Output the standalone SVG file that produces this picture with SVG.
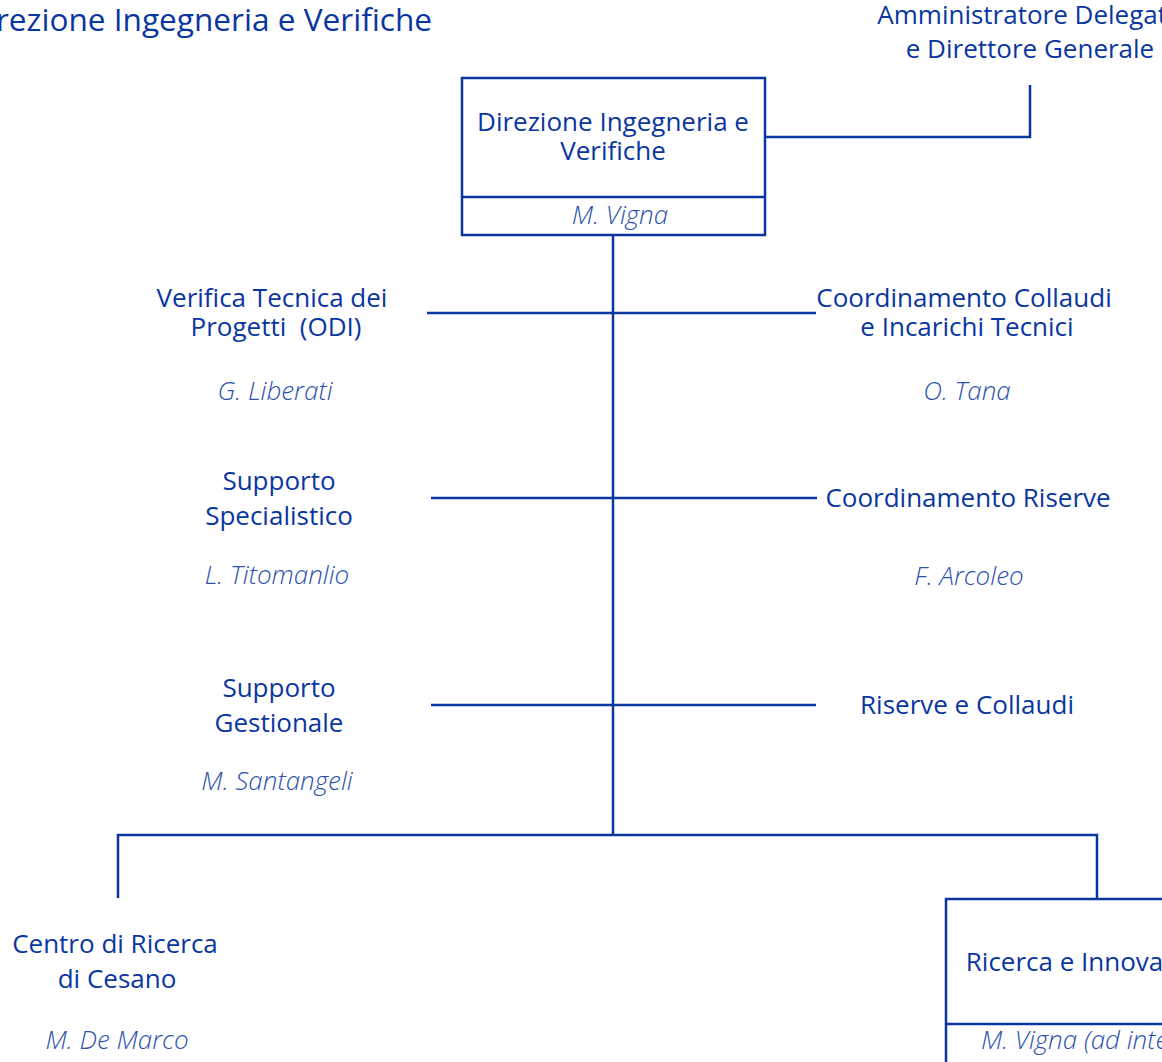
<svg xmlns="http://www.w3.org/2000/svg" width="1162" height="1062" viewBox="0 0 1162 1062">
<style>
.t{font-family:"Open Sans","Noto Sans","Liberation Sans",sans-serif;font-size:26px;fill:#0a36a0;text-anchor:middle}
.n{font-family:"Open Sans","Noto Sans","Liberation Sans",sans-serif;font-size:26px;font-style:italic;font-weight:300;fill:#2d52ad;text-anchor:middle}
.box{fill:#fff;stroke:#0a36a0;stroke-width:2.5}
.c{fill:none;stroke:#0a36a0;stroke-width:2.5}
</style>
<rect width="1162" height="1062" fill="#fff"/>
<text class="t" x="432" y="31" style="font-size:31.6px;text-anchor:end">Direzione Ingegneria e Verifiche</text>
<g id="connectors">
<path class="c" d="M765 137H1030V85"/>
<path class="c" d="M613 235V835"/>
<path class="c" d="M118 898V835H1097V899"/>
<path class="c" d="M427 313H816"/>
<path class="c" d="M431 498H817"/>
<path class="c" d="M431 705H816"/>
</g>
<g id="ad">
<text class="t" x="1030" y="24">Amministratore Delegato</text>
<text class="t" x="1030" y="58">e Direttore Generale</text>
</g>
<g id="direzione">
<rect class="box" x="462" y="78" width="303" height="157"/>
<line class="c" x1="462" y1="197" x2="765" y2="197"/>
<text class="t" x="613" y="131">Direzione Ingegneria e</text>
<text class="t" x="613" y="160">Verifiche</text>
<text class="n" x="620" y="224">M. Vigna</text>
</g>
<g id="verifica">
<text class="t" x="272" y="307">Verifica Tecnica dei</text>
<text class="t" x="276" y="336" style="white-space:pre">Progetti  (ODI)</text>
<text class="n" x="275" y="400">G. Liberati</text>
</g>
<g id="collaudi">
<text class="t" x="964" y="307">Coordinamento Collaudi</text>
<text class="t" x="967" y="336">e Incarichi Tecnici</text>
<text class="n" x="967" y="400">O. Tana</text>
</g>
<g id="specialistico">
<text class="t" x="279" y="490">Supporto</text>
<text class="t" x="279" y="525">Specialistico</text>
<text class="n" x="277" y="584">L. Titomanlio</text>
</g>
<g id="riserve">
<text class="t" x="968" y="507">Coordinamento Riserve</text>
<text class="n" x="969" y="585">F. Arcoleo</text>
</g>
<g id="gestionale">
<text class="t" x="279" y="697">Supporto</text>
<text class="t" x="279" y="732">Gestionale</text>
<text class="n" x="277" y="790">M. Santangeli</text>
</g>
<g id="riservecollaudi">
<text class="t" x="967" y="714">Riserve e Collaudi</text>
</g>
<g id="cesano">
<text class="t" x="115" y="953">Centro di Ricerca</text>
<text class="t" x="117" y="988">di Cesano</text>
<text class="n" x="117" y="1049">M. De Marco</text>
</g>
<g id="ricerca">
<rect class="box" x="946" y="899" width="302" height="180"/>
<line class="c" x1="946" y1="1024" x2="1248" y2="1024"/>
<text class="t" x="1097" y="971">Ricerca e Innovazione</text>
<text class="n" x="1097" y="1049">M. Vigna (ad interim)</text>
</g>
</svg>
